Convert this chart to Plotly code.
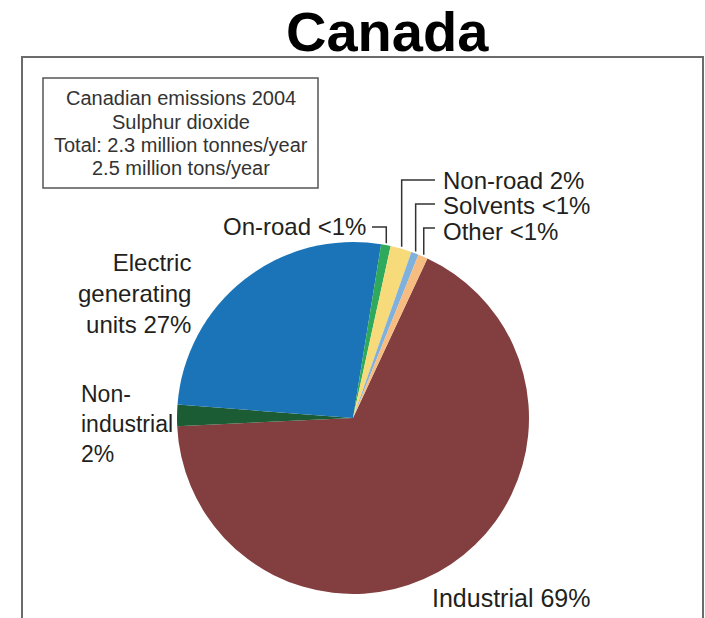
import math
import plotly.graph_objects as go

W, H = 705, 618

# Sulphur dioxide emissions by source, Canada 2004 (percent of total)
sectors = ["Industrial", "Non-industrial", "Electric generating units",
           "On-road", "Non-road", "Solvents", "Other"]
shares = [69, 2, 27, 0.9, 2, 0.7, 0.9]
colors = ["#833e3f", "#1c5c34", "#1a74b7", "#2fa95b", "#f7da7a", "#80b1dd", "#f6bc80"]
labels = ["Industrial 69%", "Non-<br>industrial<br>2%", "Electric<br>generating<br>units 27%",
          "On-road <1%", "Non-road 2%", "Solvents <1%", "Other <1%"]

box_lines = ["Canadian emissions 2004", "Sulphur dioxide",
             "Total: 2.3 million tonnes/year", "2.5 million tons/year"]

# pie placement in pixels
CX, CY, R = 353, 418, 176
ROT = 25


def px(x):
    return x / W


def py(y):
    return 1 - y / H


fig = go.Figure(go.Pie(
    labels=sectors, values=shares, sort=False, direction="clockwise",
    rotation=ROT, textinfo="none", showlegend=False,
    marker=dict(colors=colors, line=dict(width=0)),
    domain=dict(x=[px(CX - R), px(CX + R)], y=[py(CY + R), py(CY - R)]),
))

# mid-angle (clockwise from 12 o'clock) of every slice
total = sum(shares)
mids = []
start = ROT
for v in shares:
    span = v / total * 360
    mids.append(start + span / 2)
    start += span


def rim(i, gap=2):
    a = math.radians(mids[i])
    return CX + (R + gap) * math.sin(a), CY - (R + gap) * math.cos(a)


shapes = []
line_style = dict(color="#333333", width=1.5)

# outer frame (open at the bottom)
shapes.append(dict(type="path", xref="paper", yref="paper",
                   path=f"M {px(22)},{py(700)} L {px(22)},{py(57)} L {px(703)},{py(57)} L {px(703)},{py(700)}",
                   line=dict(color="#6b6b6b", width=2)))
# caption box
shapes.append(dict(type="rect", xref="paper", yref="paper",
                   x0=px(43), x1=px(318), y0=py(188), y1=py(78),
                   line=dict(color="#555555", width=1.5)))

annotations = []
lab_font = dict(family="Liberation Sans, Arial, sans-serif", size=24, color="#231f20")

# leaders for the small slices: (slice index, label row y, label x end)
leaders = [(3, 227, 372), (4, 180, 435), (5, 204, 435), (6, 228, 435)]
for idx, ly, lx in leaders:
    ex, ey = rim(idx)
    shapes.append(dict(type="path", xref="paper", yref="paper",
                       path=f"M {px(lx)},{py(ly)} L {px(ex)},{py(ly)} L {px(ex)},{py(ey)}",
                       line=line_style))

annotations.append(dict(text=labels[3], x=px(368), y=py(226), xanchor="right", yanchor="middle",
                        showarrow=False, font=lab_font, xref="paper", yref="paper"))
for idx, ly in [(4, 180), (5, 206), (6, 231)]:
    annotations.append(dict(text=labels[idx], x=px(441), y=py(ly), xanchor="left", yanchor="middle",
                            showarrow=False, font=lab_font, xref="paper", yref="paper"))
annotations.append(dict(text=labels[2], x=px(193), y=py(293), xanchor="right", yanchor="middle",
                        align="right", showarrow=False, font=lab_font, xref="paper", yref="paper"))
annotations.append(dict(text=labels[1], x=px(79), y=py(424), xanchor="left", yanchor="middle",
                        align="left", showarrow=False, font=dict(lab_font, size=23),
                        xref="paper", yref="paper"))
annotations.append(dict(text=labels[0], x=px(430), y=py(598), xanchor="left", yanchor="middle",
                        showarrow=False, font=dict(lab_font, size=25), xref="paper", yref="paper"))

# caption text, one row per line
cap_font = dict(family="Liberation Sans, Arial, sans-serif", size=20, color="#333333")
for line, ly in zip(box_lines, [98, 122, 145, 168]):
    annotations.append(dict(text=line, x=px(181), y=py(ly), xanchor="center", yanchor="middle",
                            showarrow=False, xref="paper", yref="paper", font=cap_font))

# title
annotations.append(dict(text="<b>Canada</b>", x=px(387), y=py(31), xanchor="center", yanchor="middle",
                        showarrow=False, xref="paper", yref="paper",
                        font=dict(family="Liberation Sans, Arial, sans-serif", size=56, color="#000000")))

fig.update_layout(width=W, height=H, margin=dict(l=0, r=0, t=0, b=0),
                  paper_bgcolor="white", plot_bgcolor="white",
                  shapes=shapes, annotations=annotations)

fig.write_html("out.html")
